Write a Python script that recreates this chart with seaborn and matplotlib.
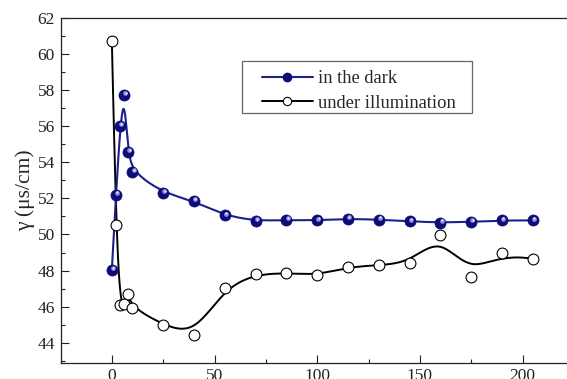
import numpy as np
import matplotlib
matplotlib.use("Agg")
import matplotlib.pyplot as plt
import matplotlib.transforms as mtransforms
from matplotlib.lines import Line2D
from matplotlib.patches import Rectangle
from matplotlib.ticker import MultipleLocator
import seaborn as sns

# data
time = [0, 2, 4, 6, 8, 10, 25, 40, 55, 70, 85, 100, 115, 130, 145, 160, 175, 190, 205]
dark = [48.05, 52.2, 56.0, 57.7, 54.55, 53.45, 52.3, 51.85, 51.05, 50.75, 50.8,
        50.78, 50.87, 50.82, 50.72, 50.66, 50.7, 50.78, 50.78]
light = [60.7, 50.5, 46.1, 46.15, 46.7, 45.95, 45.0, 44.45, 47.05, 47.8, 47.87,
         47.75, 48.2, 48.3, 48.45, 49.95, 47.65, 48.95, 48.65]
labels = ["in the dark", "under illumination"]

blue = "#1e1e8c"
navy = "#0d0d78"


def bspline(xs, ys, n=400, k=3):
    # clamped cubic B-spline with the data points as control points (Origin style)
    P = np.column_stack([xs, ys])
    m = len(P)
    knots = np.concatenate([np.zeros(k), np.linspace(0, 1, m - k + 1), np.ones(k)])
    t = np.linspace(0, 1 - 1e-9, n)
    N = np.zeros((n, len(knots) - 1))
    for i in range(len(knots) - 1):
        N[:, i] = (knots[i] <= t) & (t < knots[i + 1])
    for d in range(1, k + 1):
        Nn = np.zeros((n, len(knots) - 1 - d))
        for i in range(len(knots) - 1 - d):
            a = knots[i + d] - knots[i]
            b = knots[i + d + 1] - knots[i + 1]
            left = (t - knots[i]) / a * N[:, i] if a > 0 else 0
            right = (knots[i + d + 1] - t) / b * N[:, i + 1] if b > 0 else 0
            Nn[:, i] = left + right
        N = Nn
    c = N @ P
    return c[:, 0], c[:, 1]


sns.set_style("ticks")
plt.rcParams["font.family"] = ["Liberation Serif", "DejaVu Serif"]

fig = plt.figure(figsize=(5.67, 3.79), dpi=100)
ax = fig.add_axes([60.5 / 567, 1 - 362.5 / 379, 513.5 / 567, 345 / 379])

dx, dy = bspline(time, dark)
lx, ly = bspline(time, light)
sns.lineplot(x=lx, y=ly, sort=False, estimator=None, color="black", lw=1.4, ax=ax, zorder=2)
sns.lineplot(x=dx, y=dy, sort=False, estimator=None, color=blue, lw=1.5, ax=ax, zorder=3)

ax.plot(time, light, ls="none", marker="o", ms=7.8, mfc="white", mec="black", mew=0.8, zorder=4)
ax.plot(time, dark, ls="none", marker="o", ms=8.0, mfc=navy, mec=navy, mew=0.5, zorder=5)
hl = mtransforms.offset_copy(ax.transData, fig=fig, x=0.8, y=1.3, units="points")
ax.plot(time, dark, ls="none", marker="o", ms=3.4, mfc="#8c8cd8", mec="none", transform=hl, zorder=6)
hl2 = mtransforms.offset_copy(ax.transData, fig=fig, x=1.0, y=1.6, units="points")
ax.plot(time, dark, ls="none", marker="o", ms=1.6, mfc="#e8e8ff", mec="none", transform=hl2, zorder=7)

ax.set_xlim(-25, 225)
ax.set_ylim(42.92, 62)
ax.xaxis.set_major_locator(MultipleLocator(50))
ax.xaxis.set_minor_locator(MultipleLocator(25))
ax.yaxis.set_major_locator(MultipleLocator(2))
ax.yaxis.set_minor_locator(MultipleLocator(1))
ax.tick_params(which="both", direction="in", labelsize=12.5, colors="#222222", width=0.8)
ax.tick_params(which="major", length=5.5, pad=4)
ax.tick_params(which="minor", length=3)
for s in ax.spines.values():
    s.set_linewidth(0.9)
    s.set_color("#222222")
ax.set_xlabel("")
ax.set_ylabel("γ (μs/cm)", fontsize=15.5, labelpad=2)

handles = [
    Line2D([], [], color=blue, lw=1.5, marker="o", ms=6, mfc=navy, mec=navy),
    Line2D([], [], color="black", lw=1.4, marker="o", ms=6, mfc="white", mec="black", mew=0.8),
]
leg = ax.legend(handles, labels, loc="upper left", bbox_to_anchor=(262 / 567, 1 - 70 / 379),
                bbox_transform=fig.transFigure, borderaxespad=0, borderpad=0,
                fontsize=13.3, frameon=False,
                handlelength=2.75, handletextpad=0.3, labelspacing=0.42)
box = Rectangle((242 / 567, 1 - 113 / 379), 230 / 567, 52 / 379, transform=fig.transFigure,
                fill=False, edgecolor="#666666", lw=0.9, zorder=10)
fig.add_artist(box)

fig.savefig("out.png", dpi=100)
